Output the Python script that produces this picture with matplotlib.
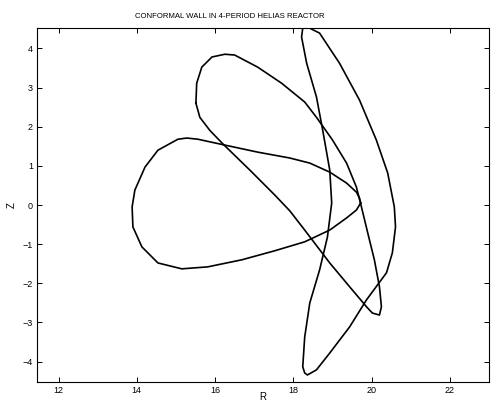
import numpy as np
import matplotlib
matplotlib.use("Agg")
import matplotlib.pyplot as plt

plt.rcParams["font.family"] = ["Liberation Sans", "DejaVu Sans"]

# ---- cross sections of the conformal wall (R, Z in m) ----
# triangular section
r_tri = [19.72, 19.69, 19.61, 19.36, 18.93, 18.42, 17.91, 17.09, 16.25, 15.56,
         15.28, 15.05, 14.54, 14.21, 13.95, 13.88, 13.90, 14.13, 14.54, 15.15,
         15.81, 16.68, 17.52, 18.29, 18.93, 19.36, 19.61]
z_tri = [0.05, 0.18, 0.33, 0.56, 0.84, 1.07, 1.20, 1.35, 1.53, 1.68,
         1.71, 1.68, 1.40, 0.97, 0.38, -0.05, -0.56, -1.07, -1.48, -1.63,
         -1.58, -1.40, -1.17, -0.94, -0.64, -0.33, -0.13]

# tilted section
r_tilt = [15.51, 15.53, 15.66, 15.92, 16.25, 16.50, 17.09, 17.70, 18.29, 18.59,
          19.00, 19.36, 19.61, 19.74, 19.90, 20.07, 20.20, 20.25, 20.20, 20.02,
          19.87, 19.44, 18.93, 18.29, 17.91, 17.52, 16.89, 16.20, 15.87, 15.61]
z_tilt = [2.60, 3.11, 3.52, 3.78, 3.85, 3.83, 3.52, 3.11, 2.63, 2.24,
          1.66, 1.07, 0.46, -0.05, -0.71, -1.40, -2.09, -2.60, -2.81, -2.76,
          -2.60, -2.09, -1.48, -0.64, -0.15, 0.26, 0.89, 1.56, 1.90, 2.24]

# bean (vertical) section
r_bean = [18.37, 18.67, 19.18, 19.69, 20.12, 20.41, 20.58, 20.61, 20.53, 20.38,
          19.87, 19.44, 18.93, 18.59, 18.36, 18.29, 18.24, 18.29, 18.42, 18.67,
          18.87, 18.98, 18.93, 18.75, 18.59, 18.34, 18.21, 18.24]
z_bean = [4.54, 4.39, 3.62, 2.68, 1.66, 0.82, -0.05, -0.56, -1.22, -1.73,
          -2.42, -3.11, -3.78, -4.21, -4.34, -4.29, -4.13, -3.37, -2.50, -1.66,
          -0.82, 0.05, 0.89, 1.91, 2.76, 3.62, 4.29, 4.52]

sections = [(r_tri, z_tri), (r_tilt, z_tilt), (r_bean, z_bean)]

fig = plt.figure(figsize=(4.91, 4.03), dpi=100)
ax = fig.add_axes([0.0754, 0.0521, 0.9206, 0.8784])

for r, z in sections:
    r = np.append(r, r[0])
    z = np.append(z, z[0])
    ax.plot(r, z, color="black", linewidth=1.2, solid_joinstyle="round")

ax.set_xlim(11.45, 23.0)
ax.set_ylim(-4.52, 4.52)
ax.set_xticks([12, 14, 16, 18, 20, 22])
ax.set_yticks([-4, -3, -2, -1, 0, 1, 2, 3, 4])
ax.tick_params(direction="in", length=3.5, width=0.7, labelsize=6.5,
               top=True, right=True, pad=3)
for s in ax.spines.values():
    s.set_linewidth(0.8)

ax.set_xlabel("R", fontsize=7, labelpad=-2)
ax.set_ylabel("Z", fontsize=7, labelpad=4)
ax.set_title("CONFORMAL WALL IN 4-PERIOD HELIAS REACTOR", fontsize=5.6,
             x=0.427, pad=7)

fig.savefig("out.png", dpi=100)
